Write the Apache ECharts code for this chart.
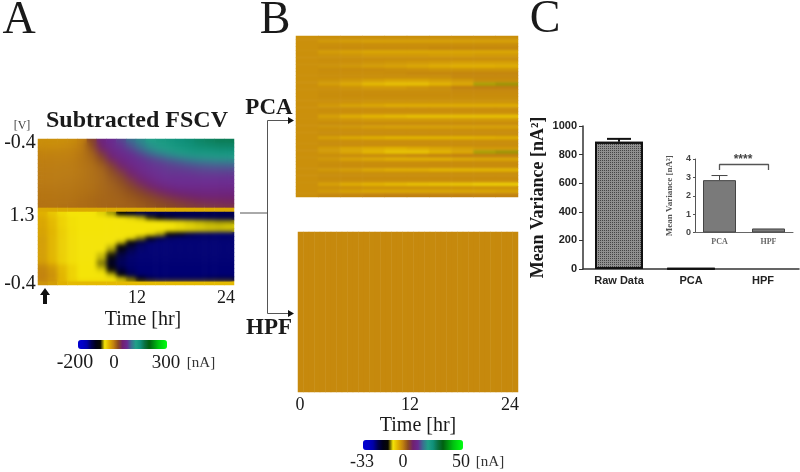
<!DOCTYPE html>
<html><head><meta charset="utf-8">
<style>html,body{margin:0;padding:0;background:#fff;overflow:hidden}
#c{position:absolute;left:0;top:0;width:800px;height:472px;filter:blur(0.7px)}
.b{position:absolute;pointer-events:none}
</style>
<script src="https://cdn.jsdelivr.net/npm/echarts@6/dist/echarts.min.js"></script>
</head><body><div id="c"></div>
<div class="b" style="left:38px;top:139px;width:196px;height:68px;backdrop-filter:blur(3.5px)"></div>
<div class="b" style="left:38px;top:212px;width:196px;height:70px;backdrop-filter:blur(2px)"></div>
<div class="b" style="left:296px;top:36px;width:222px;height:161px;backdrop-filter:blur(1.1px)"></div>
<script>
const palette=['#0000d0','#0000c8','#0000a8','#000050','#000018','#080800','#f4e408','#e0b000','#c08010','#8a4a20','#702070','#6a2a90','#3a7090','#20a088','#10907a','#0a7040','#006010','#009010','#00c010','#00e010','#00ff10'];
const fscvRows=[
[-8,-8,-8,-6,0,28,62,75,85,100,113,125,135,142,148,153,158,162,166,166],
[-7,-8,-7,-4,2,24,55,72,80,92,106,120,130,138,145,150,155,158,160,160],
[-4,-4,-3,-1,3,18,48,68,76,85,98,112,122,130,138,145,148,150,152,152],
[-1,-1,-1,0,4,14,36,62,72,78,88,100,110,118,126,132,136,138,140,140],
[0,0,0,1,5,11,28,52,68,74,80,88,96,104,110,116,120,122,124,124],
[1,1,1,2,5,10,22,42,60,72,76,80,84,90,95,100,104,106,108,108],
[2,2,2,3,5,8,16,32,50,66,74,78,80,83,86,89,92,94,95,96],
[2,2,3,3,5,8,13,26,42,58,70,76,78,80,81,83,85,86,87,87],
[3,3,3,3,5,8,12,22,34,50,64,72,76,78,78,79,80,81,81,81],
[3,3,3,4,5,8,11,19,28,42,56,68,74,76,76,76,77,77,77,77],
[3,3,4,4,6,8,11,17,24,36,48,60,70,74,75,75,75,75,75,75],
[4,4,4,5,6,8,11,15,21,30,40,50,60,68,72,72,72,72,72,72],
[4,4,5,5,7,8,11,14,18,25,33,42,50,58,64,66,66,66,66,66],
[5,5,5,6,7,9,11,14,16,21,27,34,41,48,53,57,59,60,60,60],
[5,5,6,6,8,10,12,13,15,18,22,27,33,38,43,47,50,52,52,52],
[6,6,6,7,9,10,12,13,14,16,19,23,27,31,35,38,41,43,44,45],
[6,6,7,8,9,10,12,13,14,15,17,20,23,26,29,32,34,36,37,38],
[-22,-22,-22,-22,-22,-22,-22,-22,-22,-22,-22,-22,-22,-22,-22,-22,-22,-22,-22,-22],
[-25,-35,-45,-50,-50,-50,-52,-58,-80,-105,-120,-125,-125,-125,-125,-125,-125,-125,-125,-125],
[-22,-32,-42,-48,-50,-50,-50,-50,-50,-52,-56,-70,-90,-110,-120,-125,-125,-125,-125,-125],
[-20,-30,-42,-48,-50,-50,-50,-50,-50,-50,-50,-50,-50,-51,-52,-54,-56,-58,-60,-60],
[-20,-30,-42,-48,-50,-50,-50,-50,-50,-50,-50,-50,-50,-50,-51,-52,-53,-54,-54,-53],
[-18,-28,-40,-47,-50,-50,-50,-50,-50,-50,-50,-50,-50,-51,-52,-53,-54,-55,-56,-56],
[-18,-28,-40,-47,-50,-50,-50,-50,-50,-50,-50,-52,-58,-75,-100,-120,-128,-130,-133,-133],
[-16,-28,-40,-47,-50,-50,-50,-50,-50,-52,-62,-90,-120,-130,-133,-133,-133,-133,-133,-133],
[-16,-28,-40,-47,-50,-50,-50,-50,-55,-80,-118,-130,-135,-135,-135,-135,-135,-135,-135,-135],
[-16,-28,-40,-47,-50,-50,-50,-54,-75,-112,-130,-135,-135,-135,-135,-135,-135,-135,-135,-135],
[-16,-28,-40,-47,-50,-50,-50,-60,-100,-125,-133,-135,-135,-135,-135,-135,-135,-135,-135,-135],
[-16,-28,-40,-47,-50,-50,-54,-72,-118,-130,-135,-135,-135,-135,-135,-135,-135,-135,-135,-135],
[-16,-28,-40,-47,-50,-50,-56,-90,-125,-133,-135,-135,-135,-135,-135,-135,-135,-135,-135,-135],
[-14,-26,-40,-47,-50,-50,-62,-105,-128,-133,-135,-135,-135,-135,-135,-135,-135,-135,-135,-135],
[-5,-15,-30,-42,-50,-50,-58,-95,-125,-133,-135,-135,-135,-135,-135,-135,-135,-135,-135,-135],
[-3,-12,-30,-42,-50,-50,-52,-72,-112,-130,-135,-135,-135,-135,-135,-135,-135,-135,-135,-135],
[-2,-10,-28,-42,-50,-50,-50,-56,-90,-125,-133,-135,-135,-135,-135,-135,-135,-135,-135,-135],
[-2,-10,-28,-42,-50,-50,-50,-50,-55,-65,-100,-120,-128,-128,-128,-128,-128,-125,-122,-122],
[-10,-15,-25,-30,-30,-30,-30,-30,-30,-30,-30,-30,-30,-30,-30,-30,-30,-30,-30,-30]
];
const pcaRows=[
[-1.2,-1,-1,-1,-1,-1,-1,-1,-1,-1],
[-1.2,-2,-2.2,-2.5,-2.5,-2.5,-2.5,-2.5,-2.5,-2.5],
[-1.2,-1,-1,-1,-1,-1,-1,-1,-1,-1],
[-1.2,-0.8,-0.8,-0.8,-0.8,-0.8,-0.5,-0.5,-0.5,-0.5],
[-1.2,-2.2,-2.6,-3,-3,-3,-3,-3,-3,-3],
[-1.2,-1.4,-1.6,-2,-2,-2,-2.2,-2.2,-2,-2],
[-1.2,-1,-1,-1,-1,-1,-1,-1,-1,-1],
[-1.2,-1.1,-1.2,-1.5,-1.8,-2,-2.2,-2.5,-2.5,-2.5],
[-1.2,-1.4,-1.8,-2.2,-2.6,-3,-3.5,-3.8,-3.8,-3.5],
[-1.2,-0.9,-0.8,-0.8,-1,-1.2,-1.5,-1.5,-1.5,-1.5],
[-1.2,-1,-1,-1,-0.8,-0.5,-0.5,-0.3,-0.3,-0.3],
[-1.2,-1,-1,-1,-1,-1,-1,-0.5,-0.5,-0.5],
[-1.2,-1.5,-2,-2.5,-3,-3,-2.5,-2,-1,-1],
[-1.2,-2.2,-3.2,-4.4,-5,-5,-4,-3,-9.4,-9.6],
[-1.2,-1.2,-1.5,-2,-2,-1.5,-1,0,0.3,0.3],
[-1.2,-1,-1,-1,-1,-1,-1,-0.7,-0.7,-0.7],
[-1.2,-0.9,-0.8,-0.8,-0.8,-0.8,-0.8,-0.8,-0.8,-0.8],
[-1.2,-1,-1,-1,-1,-1,-1,-1,-1,-1],
[-1.2,-1.2,-1.3,-1.5,-1.5,-1.5,-1.5,-1.5,-1.5,-1.5],
[-1.2,-2,-2.7,-3,-3.5,-3.5,-3.5,-3.5,-3.5,-3.5],
[-1.2,-1,-1,-1,-1,-1,-1,-1,-1,-1],
[-1.2,-1.1,-1.1,-1.2,-1.2,-1.2,-1.2,-1.2,-1.2,-1.2],
[-1.2,-2.5,-3.5,-4.2,-4.6,-5,-5,-5,-5,-5],
[-1.2,-1.5,-1.7,-2,-2,-2,-2,-2,-2,-2],
[-1.2,-0.9,-0.8,-0.8,-0.8,-0.8,-0.8,-0.8,-0.8,-0.8],
[-1.2,-1.5,-1.8,-2.2,-2.5,-2.5,-2.5,-2.5,-2.5,-2.5],
[-1.2,-1,-1,-1,-1,-1,-1,-1,-1,-1],
[-1.2,-0.9,-0.8,-0.8,-0.8,-0.8,-0.8,-0.8,-0.8,-0.8],
[-1.2,-2.4,-3.2,-3.6,-4,-4,-4,-4,-3.8,-3.5],
[-1.2,-1,-1,-1,-1,-1,-1,-1,-1,-1],
[-1.2,-0.9,-0.8,-0.8,-0.8,-0.8,-0.8,-0.8,-0.8,-0.8],
[-1.2,-2.2,-3,-3.5,-4,-3.5,-3,-2.5,-2,-2],
[-1.2,-2,-3,-4.2,-5.2,-5.2,-4,-3,-9.4,-9.6],
[-1.2,-1,-1,-1,-1,-0.7,-0.3,0,0,0],
[-1.2,-1.8,-2.6,-3,-3.5,-3.5,-3.5,-3,-2.8,-2.8],
[-1.2,-1,-1,-1,-1,-1,-0.8,-0.8,-0.8,-0.8],
[-1.2,-0.9,-0.8,-0.8,-0.8,-0.8,-0.8,-0.8,-0.8,-0.8],
[-1.2,-1.8,-2.2,-3,-3.5,-3.5,-4,-4,-4,-4],
[-1.2,-1,-1,-1,-1,-1,-1,-1,-1,-1],
[-1.2,-0.9,-0.8,-0.8,-0.8,-0.8,-0.8,-0.8,-0.8,-0.8],
[-1.2,-1,-1,-1,-1,-1,-1,-1,-1,-1],
[-1.2,-2.5,-3.4,-4,-4.5,-5,-5.2,-5.5,-6,-6],
[-1.2,-1.2,-1.3,-1.5,-1.5,-1.5,-1.5,-1.5,-1.5,-1.5],
[-1.2,-2,-2.6,-3,-3,-3,-3,-3,-3,-2.8],
[-1,-0.5,-0.3,0,0.2,0.2,0.2,0.2,0,0]
];
const hpfValues=[-0.6,-0.62,-0.6,-0.63,-0.6,-0.62,-0.6,-0.61,-0.63,-0.6,-0.62,-0.6,-0.61,-0.63,-0.6,-0.62,-0.6,-0.61,-0.6,-0.63,-0.62,-0.6,-0.61,-0.6,-0.63,-0.6,-0.62,-0.6,-0.61,-0.63,-0.6,-0.62,-0.6,-0.61,-0.6,-0.63,-0.62,-0.6,-0.61,-0.6];
const barCats=['Raw Data','PCA','HPF'];
const barVals=[890,2.85,0.22];
const barErrs=[20,0,0];
const insetCats=['PCA','HPF'];
const insetVals=[2.85,0.22];
const insetErrs=[0.25,0];
const bracket=[['PCA',3.4],['PCA',3.7],['HPF',3.7],['HPF',3.4]];
const serif='"Liberation Serif","Times New Roman",serif';
const sans='"Liberation Sans",Arial,sans-serif';
function cells(rows){const o=[];rows.forEach((r,y)=>r.forEach((v,x)=>o.push([x,y,v])));return o;}
function idx(n){return Array.from({length:n},(_,i)=>i);}
function heatGrid(i,rows,cols){return {
 x:{gridIndex:i,type:'category',data:idx(cols),show:false},
 y:{gridIndex:i,type:'category',data:idx(rows),inverse:true,show:false}};}
const ha=heatGrid(0,fscvRows.length,20),hb=heatGrid(1,pcaRows.length,10),hc=heatGrid(2,1,hpfValues.length);
function T(x,y,text,size,o){return {type:'text',x,y,style:Object.assign({text,fill:'#1a1a1a',font:(o&&o.weight||'normal')+' '+size+'px '+serif,textAlign:'center',textVerticalAlign:'middle'},o&&o.style)};}
function L(pts,w,col){return {type:'polyline',shape:{points:pts},style:{stroke:col||'#555',lineWidth:w||1,fill:null}};}
function H(x,y){return {type:'polygon',shape:{points:[[x-6,y-3.5],[x,y],[x-6,y+3.5]]},style:{fill:'#111'}};}
function errBar(color,cap,lw){return function(p,api){
 const s=api.coord([api.value(0),api.value(1)]),e=api.coord([api.value(0),api.value(1)+api.value(2)]);
 if(api.value(2)<=0)return {type:'group',children:[]};
 const st={stroke:color,lineWidth:lw};
 return {type:'group',children:[{type:'line',shape:{x1:s[0],y1:s[1],x2:e[0],y2:e[1]},style:st},{type:'line',shape:{x1:s[0]-cap,y1:e[1],x2:s[0]+cap,y2:e[1]},style:st}]};};}
const chart=echarts.init(document.getElementById('c'),null,{renderer:'canvas'});
chart.setOption({
 animation:false,backgroundColor:'#fff',
 grid:[
  {left:38,top:139,width:196,height:146},
  {left:296,top:36,width:222,height:161},
  {left:298,top:232,width:220,height:160},
  {left:583,top:126,width:216,height:143},
  {left:695,top:159,width:98,height:73.5}
 ],
 xAxis:[ha.x,hb.x,hc.x,
  {gridIndex:3,type:'category',data:barCats,axisLine:{lineStyle:{color:'#333',width:1.5}},axisTick:{alignWithLabel:true,length:4,lineStyle:{color:'#333'}},axisLabel:{color:'#222',fontFamily:sans,fontWeight:'bold',fontSize:11,margin:6}},
  {gridIndex:4,type:'category',data:insetCats,axisLine:{lineStyle:{color:'#666',width:1}},axisTick:{show:false},axisLabel:{color:'#666',fontFamily:serif,fontWeight:'bold',fontSize:8,margin:5}}],
 yAxis:[ha.y,hb.y,hc.y,
  {gridIndex:3,type:'value',min:0,max:1000,interval:200,splitLine:{show:false},axisLine:{show:true,lineStyle:{color:'#333',width:1.5}},axisTick:{show:true,length:4,lineStyle:{color:'#333'}},axisLabel:{color:'#222',fontFamily:sans,fontWeight:'bold',fontSize:11,margin:6,formatter:v=>String(v)},
   name:'Mean Variance [nA²]',nameLocation:'middle',nameRotate:90,nameGap:36,nameTextStyle:{fontFamily:serif,fontWeight:'bold',fontSize:18,color:'#1a1a1a'}},
  {gridIndex:4,type:'value',min:0,max:4,interval:1,splitLine:{show:false},axisLine:{show:true,lineStyle:{color:'#555'}},axisTick:{show:true,length:2,lineStyle:{color:'#555'}},axisLabel:{color:'#444',fontFamily:sans,fontWeight:'bold',fontSize:9,margin:4},
   name:'Mean Variance [nA²]',nameLocation:'middle',nameRotate:90,nameGap:21,nameTextStyle:{fontFamily:serif,fontWeight:'bold',fontSize:9,color:'#555'}}],
 visualMap:[
  {type:'continuous',min:-200,max:300,seriesIndex:0,orient:'horizontal',left:63,top:325,itemWidth:9,itemHeight:89,text:null,calculable:false,hoverLink:false,inRange:{color:palette},textStyle:{fontSize:0}},
  {type:'continuous',min:-33,max:50,seriesIndex:[1,2],orient:'horizontal',left:348,top:425,itemWidth:10,itemHeight:100,text:null,calculable:false,hoverLink:false,inRange:{color:palette},textStyle:{fontSize:0}}
 ],
 series:[
  {type:'heatmap',xAxisIndex:0,yAxisIndex:0,data:cells(fscvRows),progressive:0,silent:true},
  {type:'heatmap',xAxisIndex:1,yAxisIndex:1,data:cells(pcaRows),progressive:0,silent:true},
  {type:'heatmap',xAxisIndex:2,yAxisIndex:2,data:cells([hpfValues]),progressive:0,silent:true},
  {type:'bar',xAxisIndex:3,yAxisIndex:3,data:barVals.map((v,i)=>({value:v,itemStyle:{borderWidth:i===2?0:2}})),barWidth:48,silent:true,itemStyle:{color:'#8f8f8f',borderColor:'#111',decal:{symbol:'rect',symbolSize:1,dashArrayX:[1,1],dashArrayY:[1,1],rotation:0,color:'#444'}}},
  {type:'custom',xAxisIndex:3,yAxisIndex:3,renderItem:errBar('#111',12,2),data:barVals.map((v,i)=>[i,v,barErrs[i]]),silent:true},
  {type:'bar',xAxisIndex:4,yAxisIndex:4,data:insetVals,barWidth:33,silent:true,itemStyle:{color:'#7a7a7a',borderColor:'#444',borderWidth:1}},
  {type:'custom',xAxisIndex:4,yAxisIndex:4,renderItem:errBar('#444',8,1),data:insetVals.map((v,i)=>[i,v,insetErrs[i]]),silent:true},
  {type:'line',xAxisIndex:4,yAxisIndex:4,data:bracket,symbol:'none',silent:true,lineStyle:{color:'#555',width:1.3}}
 ],
 graphic:{elements:[
  T(19,21,'A',46),T(275,21,'B',46),T(545,20,'C',46),
  T(22,126,'[V]',12,{style:{fill:'#444'}}),T(137,121,'Subtracted FSCV',24,{weight:'bold'}),
  T(20,143,'-0.4',20),T(22,216,'1.3',20),T(20,284,'-0.4',20),
  T(137,298,'12',18),T(226,298,'24',18),T(143,320,'Time [hr]',20),
  {type:'polygon',shape:{points:[[45,288],[50,295],[47,295],[47,304],[43,304],[43,295],[40,295]]},style:{fill:'#111'}},
  T(75,363,'-200',20),T(114,363,'0',19),T(166,363,'300',19),T(201,363,'[nA]',15,{style:{fill:'#333'}}),
  T(269,108,'PCA',23,{weight:'bold'}),T(269,328,'HPF',23,{weight:'bold'}),
  L([[240,213],[268,213]],1),L([[290,120.5],[267.5,120.5],[267.5,313.5],[290,313.5]],1),
  H(294,120.5),H(294,313.5),
  T(300,405,'0',18),T(410,405,'12',18),T(510,405,'24',18),T(418,426,'Time [hr]',20),
  T(362,462,'-33',18),T(403,462,'0',18),T(461,462,'50',18),T(490,462,'[nA]',15,{style:{fill:'#333'}}),
  T(743,160,'****',12,{weight:'bold',style:{fill:'#444',font:'bold 12px '+sans}})
 ]}
});
</script></body></html>
